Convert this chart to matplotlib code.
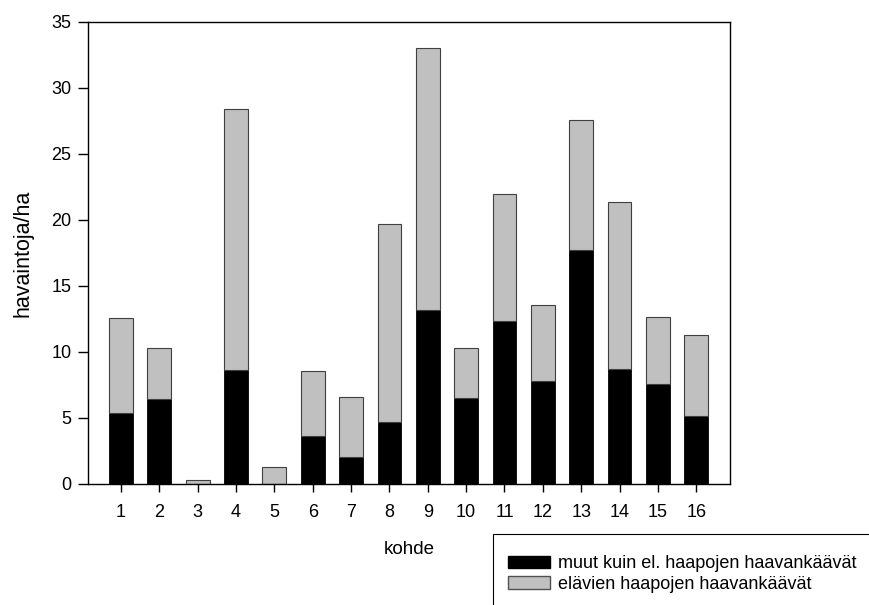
import numpy
import matplotlib
matplotlib.use("Agg")
import matplotlib.pyplot as plt
from matplotlib.patches import Rectangle, Patch

plt.rcParams["font.family"] = ["Liberation Sans", "DejaVu Sans"]

kohde = list(range(1, 17))
muut = [5.4, 6.45, 0.0, 8.6, 0.0, 3.65, 2.05, 4.7, 13.2, 6.5, 12.35, 7.8, 17.7, 8.7, 7.6, 5.15]
yhteensa = [12.55, 10.3, 0.3, 28.4, 1.3, 8.55, 6.6, 19.7, 33.0, 10.3, 21.95, 13.55, 27.6, 21.35, 12.65, 11.3]
elavat = [t - m for t, m in zip(yhteensa, muut)]

labelMuut = "muut kuin el. haapojen haavankäävät"
labelElavat = "elävien haapojen haavankäävät"

fig = plt.figure(figsize=(8.69, 6.05), dpi=100)
W, H = 869, 605
ax = fig.add_axes([88 / W, 1 - 484 / H, (730 - 88) / W, (484 - 22) / H])

x = numpy.array(kohde)
ax.bar(x, muut, width=0.62, color="black", edgecolor="black", linewidth=0.6)
ax.bar(x, elavat, width=0.62, bottom=muut, color="#c0c0c0", edgecolor="#404040", linewidth=0.8)

ax.set_xlim(0.14, 16.88)
ax.set_ylim(0, 35)
ax.set_xticks(kohde)
ax.set_yticks(range(0, 36, 5))
ax.tick_params(direction="out", width=1, labelsize=13)
ax.tick_params(axis="x", length=6, pad=8.5)
ax.tick_params(axis="y", length=7, pad=5)
for s in ax.spines.values():
    s.set_linewidth(1)
ax.set_xlabel("kohde", fontsize=13.5, labelpad=14)
ax.set_ylabel("havaintoja/ha", fontsize=15.5, labelpad=13)

# legend box, cut off by the figure edge like the original
fig.patches.append(Rectangle((493 / W, -0.01), 1.0, 1 - 534 / H + 0.01, transform=fig.transFigure,
                             facecolor="none", edgecolor="black", linewidth=0.8))
handles = [Patch(facecolor="black", edgecolor="black"),
           Patch(facecolor="#c0c0c0", edgecolor="#505050")]
fig.legend(handles, [labelMuut, labelElavat], loc="upper left",
           bbox_to_anchor=(508 / W, 1 - 555 / H), frameon=False, fontsize=13,
           handlelength=2.33, handleheight=0.67, handletextpad=0.44, labelspacing=0.22,
           borderaxespad=0, borderpad=0)

plt.savefig("out.png", format="png")
